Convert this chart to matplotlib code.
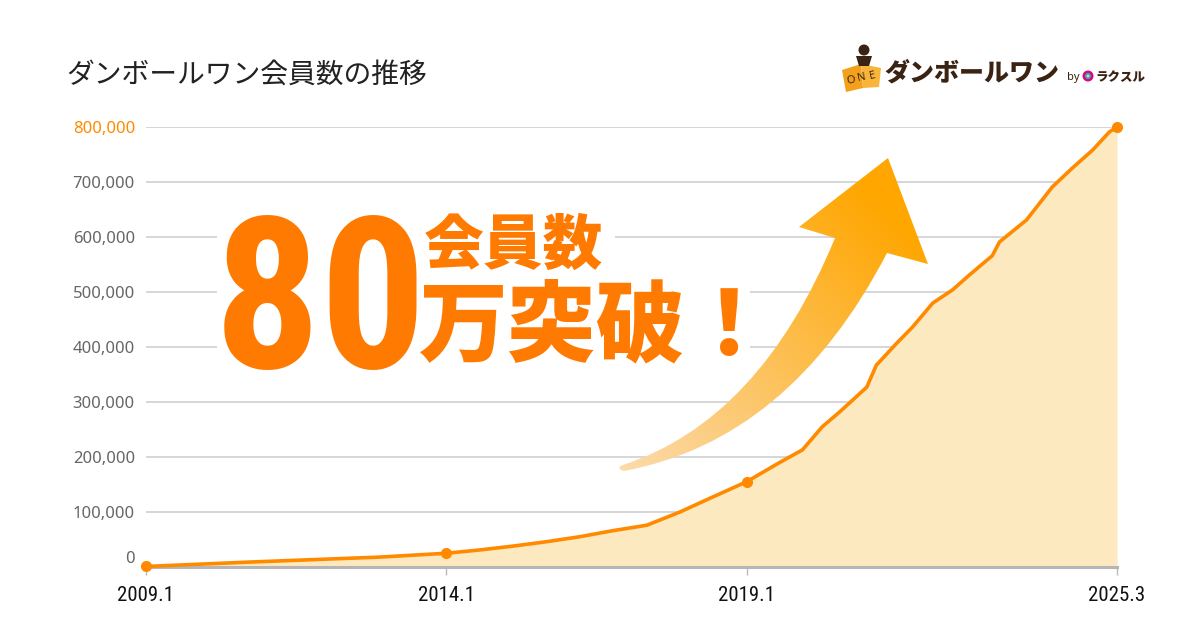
import matplotlib
matplotlib.use('Agg')
import matplotlib.pyplot as plt
import numpy as np
from matplotlib import font_manager
from matplotlib.patches import Polygon, PathPatch, Rectangle, Circle
from matplotlib.path import Path

# ---------------- data ----------------
years = [2009.0, 2010.73, 2012.89, 2014.0, 2014.56, 2015.11, 2015.67, 2016.22,
         2016.77, 2017.34, 2017.89, 2018.43, 2019.0, 2019.55, 2019.93, 2020.26,
         2020.55, 2021.0, 2021.16, 2021.5, 2021.76, 2022.1, 2022.43, 2022.71,
         2023.09, 2023.21, 2023.66, 2024.09, 2024.42, 2024.76, 2025.04, 2025.1667]
members = [1000, 9000, 18000, 25000, 31000, 38000, 46000, 55000,
           66000, 76000, 100000, 127000, 155000, 190000, 213000, 255000,
           282000, 327000, 367000, 407000, 436000, 480000, 504000, 531000,
           566000, 591000, 631000, 691000, 725000, 758000, 791000, 800000]
tick_years = [2009.0, 2014.0, 2019.0, 2025.1667]
tick_labels = ['2009.1', '2014.1', '2019.1', '2025.3']
y_ticks = [0, 100000, 200000, 300000, 400000, 500000, 600000, 700000, 800000]

title = 'ダンボールワン会員数の推移'
big_number = '80'
big_line1 = '会員数'
big_line2 = '万突破！'


def pick(names, default='DejaVu Sans'):
    for n in names:
        try:
            font_manager.findfont(font_manager.FontProperties(family=n),
                                  fallback_to_default=False)
            return n
        except Exception:
            pass
    return default


CJK = pick(['Noto Sans CJK JP', 'Noto Sans CJK SC'])
NARROW = pick(['Roboto Condensed', 'Liberation Sans Narrow', 'Roboto'])
LATIN = pick(['Noto Sans', 'Open Sans', 'DejaVu Sans'])

ORANGE = '#FF8A00'
BIG = '#FF7A00'
FILL = '#FDE9BF'
BROWN = '#3B2314'

fig = plt.figure(figsize=(12, 6.3), dpi=100)
fig.patch.set_facecolor('white')

ax = fig.add_axes([146 / 1200, 63 / 630, (1117 - 146) / 1200, (567 - 127) / 630])
ax.set_xlim(2009.0, 2025.1667)
ax.set_ylim(0, 800000)
ax.fill_between(years, members, 0, color=FILL, lw=0, zorder=1)
ax.plot(years, members, color=ORANGE, lw=2.6, zorder=3, clip_on=False,
        solid_joinstyle='round', solid_capstyle='round')
mk_x = [years[years.index(t)] for t in tick_years]
mk_y = [members[years.index(t)] for t in tick_years]
ax.plot(mk_x, mk_y, 'o', color=ORANGE, ms=7, zorder=4, clip_on=False)

ax.set_yticks(y_ticks)
ax.set_yticklabels([f'{v:,}' for v in y_ticks], fontfamily=LATIN, fontsize=12,
                   color='#666666')
ax.get_yticklabels()[-1].set_color(ORANGE)
ax.get_yticklabels()[0].set_va('bottom')
ax.tick_params(axis='y', length=0, pad=8)
ax.set_xticks(tick_years)
ax.set_xticklabels(tick_labels, fontfamily=NARROW, fontsize=15, color='#111111')
ax.tick_params(axis='x', length=6, color='#bbbbbb', width=1, pad=8)
ax.grid(axis='y', color='#cccccc', lw=1.1, zorder=0)
ax.set_axisbelow(True)
for s in ['top', 'right', 'left']:
    ax.spines[s].set_visible(False)
ax.spines['bottom'].set_color('#b5b5b5')
ax.spines['bottom'].set_linewidth(2.2)
ax.patch.set_alpha(0)

# ---------------- overlay (pixel coordinates) ----------------
ov = fig.add_axes([0, 0, 1, 1])
ov.set_xlim(0, 1200)
ov.set_ylim(630, 0)
ov.axis('off')
ov.patch.set_alpha(0)

# white areas behind the headline
ov.add_patch(Rectangle((217, 205), 398, 70, facecolor='white', lw=0, zorder=1))
ov.add_patch(Rectangle((217, 275), 533, 97, facecolor='white', lw=0, zorder=1))

ov.text(214, 368, big_number, fontfamily=NARROW, fontweight='bold', fontsize=152,
        color=BIG, ha='left', va='baseline', zorder=3)
ov.text(424, 264, big_line1, fontfamily=CJK, fontweight='heavy', fontsize=43,
        color=BIG, ha='left', va='baseline', zorder=3)
ov.text(418, 354, big_line2, fontfamily=CJK, fontweight='heavy', fontsize=64,
        color=BIG, ha='left', va='baseline', zorder=3)

# title
ov.text(66, 83, title, fontfamily=CJK, fontsize=20, color='#222222',
        ha='left', va='baseline')

# gradient arrow
verts = [(623, 465), (760, 420), (835, 238), (799, 227), (888, 158), (928, 264),
         (887, 253), (790, 440), (624, 471), (615, 468), (623, 465), (623, 465)]
codes = [Path.MOVETO, Path.CURVE3, Path.CURVE3, Path.LINETO, Path.LINETO,
         Path.LINETO, Path.LINETO, Path.CURVE3, Path.CURVE3, Path.CURVE3,
         Path.CURVE3, Path.CLOSEPOLY]
arrow_path = Path(verts, codes)
patch = PathPatch(arrow_path, facecolor='none', edgecolor='none', zorder=2)
ov.add_patch(patch)
x0, x1, y0, y1 = 600, 940, 150, 480
gx, gy = np.meshgrid(np.linspace(x0, x1, 340), np.linspace(y0, y1, 330))
p0 = np.array([623, 468.0])
p1 = np.array([880, 200.0])
d = p1 - p0
t = ((gx - p0[0]) * d[0] + (gy - p0[1]) * d[1]) / (d @ d)
t = np.clip(t, 0, 1)[..., None]
c_tail = np.array([251, 218, 170]) / 255
c_head = np.array([255, 166, 0]) / 255
img = c_tail * (1 - t) + c_head * t
im = ov.imshow(img, extent=(x0, x1, y1, y0), origin='upper', aspect='auto',
               zorder=2, interpolation='bilinear')
im.set_clip_path(patch)
ov.set_xlim(0, 1200)
ov.set_ylim(630, 0)

# logo
ov.add_patch(Polygon([(842, 70), (861, 64), (863, 88), (846, 92)],
                     closed=True, facecolor='#F3A01C', lw=0, zorder=3))
ov.add_patch(Polygon([(861, 64), (881, 68), (879, 87), (863, 88)],
                     closed=True, facecolor='#F8B53A', lw=0, zorder=3))
ov.add_patch(Polygon([(856, 56), (872, 56), (869, 66), (859, 66)],
                     closed=True, facecolor=BROWN, lw=0, zorder=4))
ov.add_patch(Circle((864, 50), 5.5, facecolor=BROWN, lw=0, zorder=4))
for ch, (lx, ly) in zip('ONE', [(851, 81), (862, 78), (872, 76)]):
    ov.text(lx, ly, ch, fontfamily=LATIN, fontweight='bold', fontsize=8,
            color=BROWN, ha='center', va='center', rotation=12, zorder=5)
ov.text(884, 81, 'ダンボールワン', fontfamily=CJK, fontweight='heavy',
        fontsize=18, color=BROWN, ha='left', va='baseline')
ov.text(1067, 80, 'by', fontfamily=LATIN, fontweight='bold', fontsize=8,
        color=BROWN, ha='left', va='baseline')
ov.add_patch(Circle((1088, 76), 5.5, facecolor='#E4007F', lw=0, zorder=3))
ov.add_patch(Circle((1088, 76), 3.2, facecolor='#1BA0E2', lw=0, zorder=4))
ov.add_patch(Circle((1088, 76), 1.5, facecolor='#FFE100', lw=0, zorder=5))
ov.text(1095, 81, 'ラクスル', fontfamily=CJK, fontweight='heavy', fontsize=9,
        color=BROWN, ha='left', va='baseline')

fig.savefig('out.png', dpi=100, facecolor='white')
